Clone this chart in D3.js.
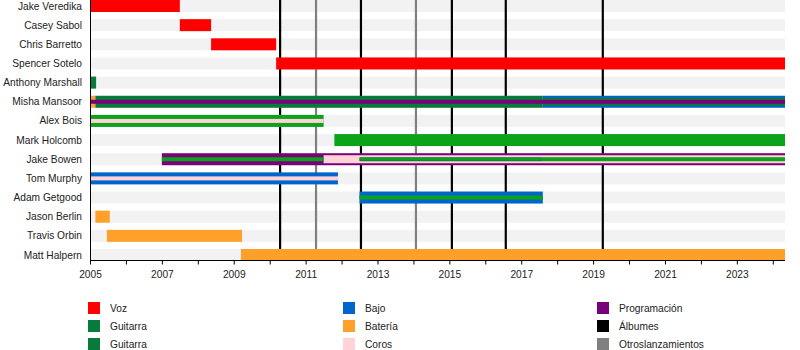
<!DOCTYPE html>
<html>
<head>
<meta charset="utf-8">
<script src="https://cdn.jsdelivr.net/npm/d3@7"></script>
<style>
  html, body { margin: 0; padding: 0; background: #fff; }
  svg { display: block; }
  text { font-family: "Liberation Sans", Arial, sans-serif; fill: #222; }
</style>
</head>
<body>
<svg id="chart" width="800" height="350"></svg>
<script>
// Band members, top to bottom
const members = [
  "Jake Veredika", "Casey Sabol", "Chris Barretto", "Spencer Sotelo",
  "Anthony Marshall", "Misha Mansoor", "Alex Bois", "Mark Holcomb",
  "Jake Bowen", "Tom Murphy", "Adam Getgood", "Jason Berlin",
  "Travis Orbin", "Matt Halpern"
];

const startYear = 2005;
const endYear = 2024.34;   // "present"

// Roles
const roleKeys   = ["voz", "guitar", "guitar2", "bass", "drums", "backing", "programming"];
const roleColors = ["#ff0000", "#087a3a", "#0aa31a", "#0066cc", "#ffa02a", "#ffd3d8", "#780078"];

// Membership periods: [member, role, from, to, layer]  (layer 0 = outer band, higher = nested inside)
const periods = [
  ["Jake Veredika",    "voz",         2005.00, 2007.50, 0],
  ["Casey Sabol",      "voz",         2007.50, 2008.37, 0],
  ["Chris Barretto",   "voz",         2008.37, 2010.18, 0],
  ["Spencer Sotelo",   "voz",         2010.18, endYear, 0],
  ["Anthony Marshall", "guitar",      2005.00, 2005.17, 0],
  ["Misha Mansoor",    "drums",       2005.00, 2005.15, 0],
  ["Misha Mansoor",    "guitar",      2005.15, 2017.60, 0],
  ["Misha Mansoor",    "bass",        2017.60, endYear, 0],
  ["Misha Mansoor",    "guitar",      2017.60, endYear, 1],
  ["Misha Mansoor",    "programming", 2005.00, endYear, 2],
  ["Alex Bois",        "guitar2",     2005.00, 2011.50, 0],
  ["Alex Bois",        "backing",     2005.00, 2011.50, 2],
  ["Mark Holcomb",     "guitar2",     2011.80, endYear, 0],
  ["Jake Bowen",       "programming", 2007.00, endYear, 0],
  ["Jake Bowen",       "backing",     2011.50, endYear, 1],
  ["Jake Bowen",       "guitar2",     2007.00, 2011.50, 2],
  ["Jake Bowen",       "guitar",      2012.50, 2017.60, 2],
  ["Jake Bowen",       "guitar2",     2012.50, 2017.60, 3],
  ["Jake Bowen",       "guitar2",     2017.60, endYear, 2],
  ["Tom Murphy",       "bass",        2005.00, 2011.90, 0],
  ["Tom Murphy",       "backing",     2005.00, 2011.90, 2],
  ["Adam Getgood",     "bass",        2012.50, 2017.60, 0],
  ["Adam Getgood",     "guitar2",     2012.50, 2017.60, 2],
  ["Jason Berlin",     "drums",       2005.15, 2005.55, 0],
  ["Travis Orbin",     "drums",       2005.47, 2009.23, 0],
  ["Matt Halpern",     "drums",       2009.20, endYear, 0]
];

// Releases
const albums = [2010.29, 2012.54, 2015.07, 2016.57, 2019.27];
const otherReleases = [2011.29, 2014.07];

// Axis ticks
const tickYears  = d3.range(2005, 2025);
const labelYears = d3.range(2005, 2024, 2);

// Legend
const legendLabels = ["Voz", "Guitarra", "Guitarra", "Bajo", "Batería", "Coros", "Programación", "Álbumes", "Otroslanzamientos"];
const legendColors = ["#ff0000", "#087a3a", "#087a3a", "#0066cc", "#ffa02a", "#ffd3d8", "#780078", "#000000", "#808080"];

// ---- drawing ----
const svg = d3.select("#chart");
const x = d3.scaleLinear().domain([startYear, endYear]).range([90, 785]);
const y = d3.scalePoint().domain(members).range([6, 255]);
const color = d3.scaleOrdinal().domain(roleKeys).range(roleColors);
const layerHeight = [12, 8, 4, 2.4];
const axisY = 260.5;
const fontSize = 10.2;

// row background bands
svg.append("g").selectAll("rect").data(members).join("rect")
  .attr("x", x(startYear)).attr("width", x(endYear) - x(startYear))
  .attr("y", d => y(d) - 6).attr("height", 12)
  .attr("fill", "#f2f2f2");

// release markers
svg.append("g").selectAll("line").data(otherReleases).join("line")
  .attr("x1", d => x(d)).attr("x2", d => x(d))
  .attr("y1", 0).attr("y2", axisY)
  .attr("stroke", "#808080").attr("stroke-width", 2.2);
svg.append("g").selectAll("line").data(albums).join("line")
  .attr("x1", d => x(d)).attr("x2", d => x(d))
  .attr("y1", 0).attr("y2", axisY)
  .attr("stroke", "#000").attr("stroke-width", 2.2);

// membership bars, outer layers first
const ordered = periods.map((p, i) => ({ p, i })).sort((a, b) => a.p[4] - b.p[4] || a.i - b.i);
svg.append("g").selectAll("rect").data(ordered).join("rect")
  .attr("x", d => x(d.p[2]))
  .attr("width", d => Math.max(0, x(d.p[3]) - x(d.p[2])))
  .attr("y", d => y(d.p[0]) - layerHeight[d.p[4]] / 2)
  .attr("height", d => layerHeight[d.p[4]])
  .attr("fill", d => color(d.p[1]));

// member names
svg.append("g").selectAll("text").data(members).join("text")
  .attr("x", 82).attr("y", d => y(d))
  .attr("text-anchor", "end").attr("dominant-baseline", "central")
  .attr("font-size", fontSize)
  .text(d => d);

// left border
svg.append("line")
  .attr("x1", 90.5).attr("x2", 90.5).attr("y1", 0).attr("y2", axisY)
  .attr("stroke", "#000").attr("stroke-width", 1);

// time axis
const axis = d3.axisBottom(x)
  .tickValues(tickYears)
  .tickSize(4)
  .tickFormat(d => labelYears.includes(d) ? String(d) : "");
const gAxis = svg.append("g").attr("transform", `translate(0,${axisY})`).call(axis);
gAxis.select(".domain").attr("d", `M${x(startYear)},0H${x(endYear)}`).attr("stroke", "#000");
gAxis.selectAll(".tick line").attr("stroke", "#000");
gAxis.selectAll(".tick text")
  .attr("font-size", fontSize)
  .attr("font-family", "Liberation Sans, Arial, sans-serif")
  .attr("fill", "#222")
  .attr("dy", "1.05em");

// legend, three columns of three
const colX = [88, 343, 597];
const rowY = [308, 326, 344];
const lg = svg.append("g").selectAll("g").data(legendLabels).join("g")
  .attr("transform", (d, i) => `translate(${colX[Math.floor(i / 3)]},${rowY[i % 3]})`);
lg.append("rect")
  .attr("x", 0).attr("y", -6).attr("width", 12).attr("height", 12)
  .attr("fill", (d, i) => legendColors[i]);
lg.append("text")
  .attr("x", 22).attr("y", 0)
  .attr("dominant-baseline", "central")
  .attr("font-size", fontSize)
  .text(d => d);
</script>
</body>
</html>
